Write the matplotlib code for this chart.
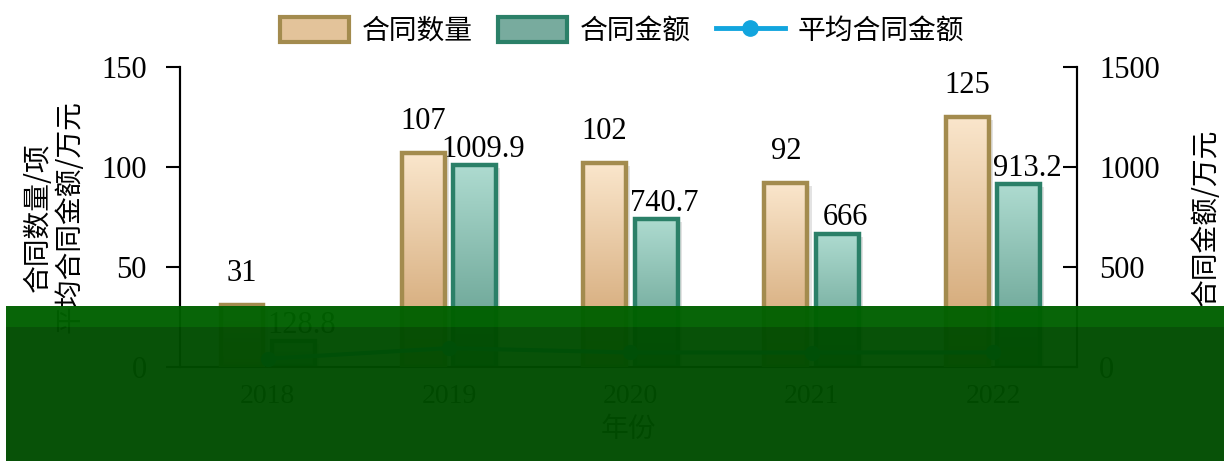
import numpy as np
import matplotlib
matplotlib.use("Agg")
import matplotlib.pyplot as plt
import matplotlib.patheffects as pe
from matplotlib.colors import LinearSegmentedColormap
from matplotlib.patches import Patch, Rectangle
from matplotlib.lines import Line2D

CJK = ["Noto Sans CJK SC", "DejaVu Sans"]
NUM = ["Liberation Serif", "DejaVu Serif"]

years = ["2018", "2019", "2020", "2021", "2022"]
counts = [31, 107, 102, 92, 125]
amounts = [128.8, 1009.9, 740.7, 666, 913.2]
avg_amount = [4.15, 9.44, 7.26, 7.24, 7.31]

GOLD_EDGE = "#A38B4E"; GOLD_TOP = "#FAE6CC"; GOLD_BOT = "#CC9C66"
TEAL_EDGE = "#2B8068"; TEAL_TOP = "#AEDBD0"; TEAL_BOT = "#5A9787"
CYAN = "#12A5DE"

fig = plt.figure(figsize=(12.24, 4.61), dpi=100)
ax = fig.add_axes([180/1224, 94/461, (1077-180)/1224, 300/461])
ax2 = ax.twinx()

x = np.arange(len(years))
w = 0.237
off = 0.142


def grad_bar(a, xc, h, top, bot, edge):
    a.bar(xc, h, w, color="#808080", alpha=0.0, zorder=1,
          path_effects=[pe.SimplePatchShadow(offset=(3, -2), shadow_rgbFace="#b0b0b0", alpha=0.35)])
    rect = a.bar(xc, h, w, facecolor="none", edgecolor=edge, linewidth=3.2, zorder=3)[0]
    cmap = LinearSegmentedColormap.from_list("g", [bot, top])
    grad = np.linspace(0, 1, 256).reshape(-1, 1)
    im = a.imshow(grad, cmap=cmap, extent=(xc - w/2, xc + w/2, 0, h), origin="lower",
                  aspect="auto", zorder=2)
    im.set_clip_path(rect)


for i in range(len(years)):
    grad_bar(ax, x[i] - off, counts[i], GOLD_TOP, GOLD_BOT, GOLD_EDGE)
    grad_bar(ax2, x[i] + off, amounts[i], TEAL_TOP, TEAL_BOT, TEAL_EDGE)
    ax.annotate(f"{counts[i]}", (x[i] - off, counts[i]), xytext=(0, 17), textcoords="offset points",
                ha="center", va="baseline", fontsize=22, family=NUM, zorder=5)
    ax2.annotate(f"{amounts[i]:g}", (x[i] + off, amounts[i]), xytext=(6, 6), textcoords="offset points",
                 ha="center", va="baseline", fontsize=22, family=NUM, zorder=5)

ax.plot(x, avg_amount, color=CYAN, lw=3, marker="o", ms=10, zorder=6)

ax.set_zorder(ax2.get_zorder() + 1)
ax.patch.set_visible(False)

ax.set_xlim(-0.484, 4.463)
ax.set_ylim(0, 150)
ax2.set_ylim(0, 1500)
ax.set_yticks([0, 50, 100, 150])
ax2.set_yticks([0, 500, 1000, 1500])
ax.set_xticks(x)
ax.set_xticklabels(years)

for a in (ax, ax2):
    a.spines["top"].set_visible(False)
    for s in a.spines.values():
        s.set_linewidth(1.5)
ax.tick_params(axis="y", direction="out", length=10, width=1.5, pad=14, labelsize=22)
ax2.tick_params(axis="y", direction="in", length=10, width=1.5, pad=16, labelsize=22)
ax.tick_params(axis="x", length=0, pad=12, labelsize=20)
for lab in ax.get_yticklabels() + ax2.get_yticklabels() + ax.get_xticklabels():
    lab.set_family(NUM)

ax.set_ylabel("合同数量/项\n平均合同金额/万元", family=CJK, fontsize=20, labelpad=12, linespacing=1.05)
ax2.set_ylabel("合同金额/万元", family=CJK, fontsize=20, labelpad=22)
ax.set_xlabel("年份", family=CJK, fontsize=20)

handles = [Patch(facecolor="#E3C39A", edgecolor=GOLD_EDGE, linewidth=3),
           Patch(facecolor="#78AB9E", edgecolor=TEAL_EDGE, linewidth=3),
           Line2D([], [], color=CYAN, lw=3.5, marker="o", ms=11)]
fig.legend(handles, ["合同数量", "合同金额", "平均合同金额"], loc="upper center",
           bbox_to_anchor=(0.508, 1.02), ncol=3, frameon=False, handlelength=2.5,
           handleheight=1.0, columnspacing=0.9, handletextpad=0.45, prop={"family": CJK, "size": 20})

# dark green band covering the lower part, as in the reference picture
fig.patches.append(Rectangle((6/1224, 0), 1 - 6/1224, (461-327)/461, transform=fig.transFigure,
                             facecolor="#004c00", alpha=0.97, zorder=20))
fig.patches.append(Rectangle((6/1224, (461-327)/461), 1 - 6/1224, 21/461, transform=fig.transFigure,
                             facecolor="#006000", alpha=0.97, zorder=20))

fig.savefig("out.png", dpi=100)
